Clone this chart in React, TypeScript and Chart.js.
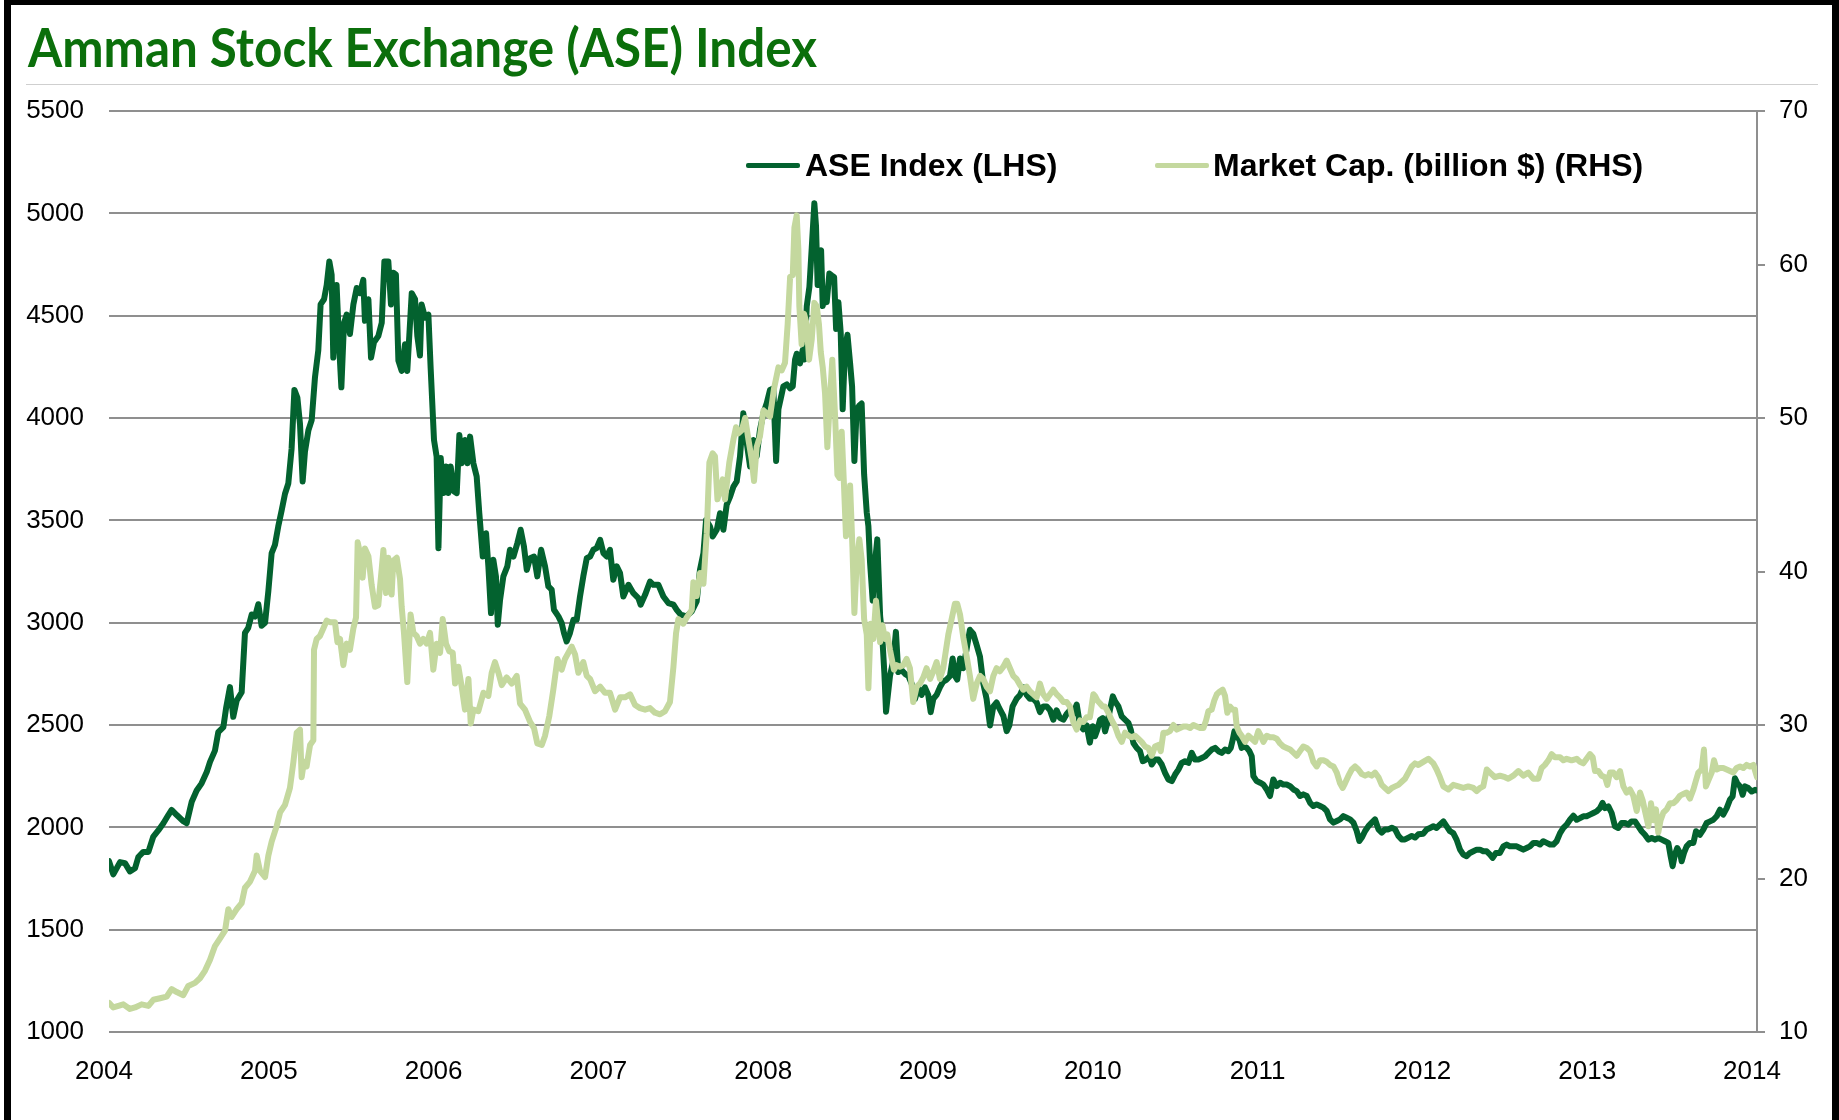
import React, { useEffect, useLayoutEffect, useRef } from "react";
import { Chart, registerables } from "chart.js";

Chart.register(...registerables);

// ---------------- data ----------------
const TITLE = "Amman Stock Exchange (ASE) Index";
const ASE_LABEL = "ASE Index (LHS)";
const CAP_LABEL = "Market Cap. (billion $) (RHS)";

const BASE_YEAR = 2004;
const xTickYears = [2004, 2005, 2006, 2007, 2008, 2009, 2010, 2011, 2012, 2013, 2014];
const leftTicks = [1000, 1500, 2000, 2500, 3000, 3500, 4000, 4500, 5000, 5500];
const rightTicks = [10, 20, 30, 40, 50, 60, 70];

// years elapsed since 2004 for each ASE reading
const aseYearOffsets = [
  0.000, 0.026, 0.067, 0.097, 0.127, 0.158, 0.178, 0.208, 0.239, 0.269, 0.299, 0.330, 0.360, 0.380, 0.411, 0.451, 0.471,
  0.502, 0.532, 0.562, 0.593, 0.613, 0.643, 0.663, 0.694, 0.710, 0.734, 0.754, 0.775, 0.805, 0.825, 0.845, 0.866, 0.886,
  0.906, 0.926, 0.947, 0.967, 0.987, 1.007, 1.027, 1.048, 1.068, 1.088, 1.108, 1.125, 1.143, 1.159, 1.175, 1.189, 1.210,
  1.230, 1.250, 1.270, 1.284, 1.305, 1.321, 1.337, 1.351, 1.361, 1.381, 1.398, 1.410, 1.426, 1.442, 1.462, 1.483, 1.503,
  1.523, 1.543, 1.553, 1.574, 1.590, 1.608, 1.634, 1.655, 1.671, 1.695, 1.711, 1.725, 1.741, 1.756, 1.776, 1.796, 1.810,
  1.837, 1.857, 1.871, 1.887, 1.897, 1.918, 1.938, 1.952, 1.972, 1.988, 1.999, 2.013, 2.029, 2.045, 2.059, 2.073, 2.094,
  2.110, 2.126, 2.140, 2.160, 2.175, 2.191, 2.211, 2.231, 2.247, 2.268, 2.288, 2.302, 2.318, 2.332, 2.348, 2.359, 2.373,
  2.393, 2.417, 2.433, 2.454, 2.478, 2.498, 2.518, 2.535, 2.555, 2.579, 2.599, 2.622, 2.646, 2.666, 2.686, 2.700, 2.727,
  2.747, 2.761, 2.777, 2.797, 2.818, 2.838, 2.858, 2.878, 2.899, 2.919, 2.939, 2.959, 2.980, 3.000, 3.020, 3.040, 3.060,
  3.081, 3.101, 3.121, 3.152, 3.182, 3.212, 3.226, 3.253, 3.283, 3.303, 3.334, 3.364, 3.394, 3.425, 3.445, 3.469, 3.505,
  3.536, 3.566, 3.586, 3.607, 3.623, 3.647, 3.663, 3.688, 3.708, 3.728, 3.748, 3.769, 3.789, 3.809, 3.829, 3.849, 3.870,
  3.890, 3.910, 3.930, 3.950, 3.971, 3.991, 4.011, 4.031, 4.048, 4.062, 4.082, 4.092, 4.113, 4.133, 4.149, 4.163, 4.173,
  4.193, 4.209, 4.220, 4.234, 4.250, 4.264, 4.280, 4.290, 4.300, 4.311, 4.321, 4.331, 4.341, 4.355, 4.371, 4.385, 4.400,
  4.412, 4.426, 4.440, 4.452, 4.466, 4.481, 4.497, 4.509, 4.523, 4.537, 4.553, 4.567, 4.582, 4.598, 4.608, 4.618, 4.634,
  4.648, 4.662, 4.679, 4.693, 4.705, 4.715, 4.739, 4.759, 4.775, 4.789, 4.810, 4.830, 4.850, 4.870, 4.891, 4.911, 4.931,
  4.951, 4.971, 4.986, 5.002, 5.022, 5.042, 5.062, 5.083, 5.103, 5.119, 5.133, 5.147, 5.164, 5.184, 5.204, 5.224, 5.244,
  5.265, 5.285, 5.305, 5.325, 5.346, 5.366, 5.386, 5.402, 5.427, 5.447, 5.463, 5.483, 5.507, 5.528, 5.548, 5.568, 5.588,
  5.609, 5.629, 5.649, 5.669, 5.690, 5.710, 5.730, 5.750, 5.770, 5.791, 5.811, 5.831, 5.851, 5.872, 5.892, 5.912, 5.932,
  5.952, 5.969, 5.983, 5.997, 6.014, 6.030, 6.044, 6.058, 6.074, 6.091, 6.105, 6.125, 6.145, 6.165, 6.186, 6.200, 6.216,
  6.236, 6.256, 6.273, 6.293, 6.313, 6.327, 6.347, 6.368, 6.388, 6.408, 6.428, 6.449, 6.469, 6.489, 6.509, 6.529, 6.550,
  6.570, 6.590, 6.610, 6.631, 6.651, 6.671, 6.691, 6.712, 6.732, 6.752, 6.772, 6.792, 6.807, 6.819, 6.829, 6.843, 6.859,
  6.873, 6.887, 6.904, 6.920, 6.934, 6.944, 6.964, 6.985, 7.005, 7.025, 7.045, 7.065, 7.086, 7.106, 7.126, 7.146, 7.167,
  7.187, 7.207, 7.227, 7.247, 7.268, 7.288, 7.308, 7.328, 7.349, 7.369, 7.389, 7.409, 7.430, 7.450, 7.470, 7.490, 7.510,
  7.531, 7.551, 7.571, 7.587, 7.602, 7.622, 7.642, 7.662, 7.682, 7.703, 7.723, 7.743, 7.763, 7.784, 7.804, 7.824, 7.844,
  7.864, 7.885, 7.905, 7.925, 7.945, 7.975, 7.995, 8.016, 8.036, 8.056, 8.076, 8.097, 8.117, 8.137, 8.157, 8.177, 8.198,
  8.218, 8.238, 8.258, 8.279, 8.299, 8.319, 8.339, 8.360, 8.380, 8.396, 8.416, 8.440, 8.461, 8.481, 8.501, 8.521, 8.542,
  8.562, 8.582, 8.602, 8.622, 8.643, 8.663, 8.683, 8.703, 8.724, 8.744, 8.764, 8.784, 8.805, 8.825, 8.845, 8.865, 8.886,
  8.906, 8.926, 8.946, 8.966, 8.987, 9.007, 9.027, 9.047, 9.063, 9.078, 9.098, 9.118, 9.138, 9.158, 9.179, 9.199, 9.219,
  9.239, 9.260, 9.280, 9.300, 9.320, 9.341, 9.361, 9.381, 9.401, 9.422, 9.442, 9.462, 9.476, 9.488, 9.502, 9.516, 9.533,
  9.543, 9.557, 9.573, 9.593, 9.614, 9.630, 9.654, 9.674, 9.694, 9.715, 9.735, 9.755, 9.775, 9.795, 9.816, 9.836, 9.852,
  9.866, 9.880, 9.897, 9.913, 9.927, 9.947, 9.968, 9.988, 10.000,
];

const aseValues = [
  1835, 1770, 1830, 1825, 1785, 1800, 1855, 1880, 1880, 1955, 1985, 2020, 2060, 2085, 2060, 2030, 2020,
  2125, 2180, 2215, 2270, 2320, 2375, 2465, 2490, 2580, 2685, 2540, 2620, 2660, 2950, 2975, 3040, 3030,
  3090, 2985, 3000, 3155, 3340, 3380, 3470, 3550, 3630, 3680, 3850, 4137, 4100, 3970, 3690, 3835, 3940,
  3990, 4200, 4330, 4555, 4580, 4650, 4765, 4700, 4295, 4650, 4330, 4150, 4465, 4505, 4410, 4555, 4635,
  4610, 4675, 4475, 4580, 4295, 4370, 4400, 4465, 4765, 4765, 4555, 4710, 4700, 4280, 4230, 4360, 4230,
  4610, 4580, 4400, 4305, 4555, 4490, 4505, 4240, 3893, 3812, 3364, 3804, 3633, 3763, 3633, 3763, 3641,
  3633, 3917, 3779, 3893, 3779, 3909, 3779, 3714, 3535, 3323, 3437, 3275, 3047, 3307, 3226, 2990, 3112,
  3226, 3275, 3356, 3323, 3389, 3454, 3372, 3258, 3315, 3323, 3226, 3356, 3275, 3177, 3161, 3063, 3031,
  2998, 2949, 2908, 2949, 3014, 3014, 3128, 3226, 3315, 3323, 3356, 3364, 3405, 3340, 3323, 3356, 3210,
  3275, 3242, 3128, 3185, 3144, 3120, 3088, 3136, 3201, 3185, 3185, 3128, 3096, 3088, 3063, 3039, 3031,
  3055, 3104, 3258, 3340, 3502, 3470, 3421, 3454, 3535, 3454, 3576, 3616, 3665, 3690, 3812, 4023, 3877,
  3763, 3893, 3812, 3942, 4023, 4072, 4137, 4145, 3790, 4043, 4117, 4155, 4164, 4145, 4155, 4286, 4314,
  4267, 4332, 4286, 4547, 4641, 4828, 5049, 4940, 4650, 4809, 4819, 4547, 4622, 4566, 4706, 4697, 4688,
  4435, 4566, 4417, 4043, 4342, 4407, 4267, 4155, 3790, 4043, 4061, 4071, 3725, 3538, 3472, 3295, 3108,
  3295, 3407, 3033, 2921, 2752, 2565, 2740, 2815, 2955, 2759, 2768, 2750, 2740, 2703, 2628, 2684, 2647,
  2684, 2647, 2563, 2628, 2647, 2684, 2712, 2722, 2740, 2825, 2740, 2722, 2825, 2778, 2871, 2965, 2946,
  2890, 2834, 2703, 2628, 2498, 2591, 2610, 2582, 2544, 2470, 2498, 2591, 2628, 2647, 2684, 2647, 2628,
  2628, 2610, 2563, 2591, 2591, 2572, 2526, 2572, 2535, 2526, 2554, 2572, 2554, 2600, 2498, 2479, 2498,
  2414, 2494, 2445, 2477, 2526, 2534, 2469, 2510, 2575, 2640, 2615, 2591, 2542, 2526, 2510, 2477, 2412,
  2388, 2372, 2323, 2331, 2347, 2307, 2331, 2331, 2307, 2266, 2234, 2226, 2258, 2282, 2315, 2323, 2315,
  2364, 2331, 2331, 2339, 2347, 2364, 2380, 2388, 2372, 2364, 2380, 2372, 2388, 2429, 2469, 2445, 2429,
  2388, 2396, 2388, 2372, 2347, 2250, 2226, 2218, 2209, 2185, 2153, 2234, 2201, 2218, 2209, 2209, 2201,
  2185, 2177, 2153, 2161, 2153, 2120, 2104, 2112, 2104, 2096, 2080, 2039, 2023, 2031, 2039, 2055, 2047,
  2039, 2023, 1982, 1933, 1950, 1982, 2006, 2023, 2039, 1990, 1974, 1990, 1990, 1998, 1990, 1958, 1941,
  1941, 1950, 1958, 1950, 1966, 1969, 1989, 1997, 2005, 1997, 2013, 2029, 2005, 1981, 1972, 1940, 1891,
  1867, 1859, 1875, 1883, 1891, 1891, 1883, 1883, 1867, 1851, 1875, 1875, 1907, 1916, 1907, 1907, 1907,
  1899, 1891, 1899, 1907, 1924, 1924, 1916, 1932, 1924, 1916, 1916, 1932, 1972, 1997, 2013, 2037, 2057,
  2037, 2045, 2054, 2054, 2062, 2070, 2078, 2094, 2119, 2094, 2102, 2070, 2005, 1997, 2021, 2021, 2013,
  2029, 2029, 2005, 1981, 1964, 1940, 1948, 1940, 1948, 1940, 1932, 1924, 1859, 1810, 1867, 1899, 1875,
  1834, 1875, 1907, 1924, 1924, 1981, 1964, 1989, 2021, 2029, 2037, 2054, 2086, 2062, 2094, 2135, 2151,
  2240, 2216, 2200, 2159, 2200, 2192, 2175, 2183, 2180,
];

// years elapsed since 2004 for each market-cap reading
const capYearOffsets = [
  0.000, 0.026, 0.057, 0.087, 0.127, 0.158, 0.198, 0.239, 0.269, 0.310, 0.350, 0.380, 0.411, 0.451, 0.481, 0.522, 0.552,
  0.583, 0.613, 0.643, 0.674, 0.704, 0.724, 0.744, 0.775, 0.805, 0.825, 0.856, 0.886, 0.896, 0.916, 0.947, 0.967, 0.987,
  1.017, 1.038, 1.068, 1.098, 1.119, 1.139, 1.159, 1.169, 1.183, 1.199, 1.220, 1.240, 1.244, 1.260, 1.280, 1.301, 1.321,
  1.341, 1.371, 1.386, 1.402, 1.422, 1.442, 1.462, 1.483, 1.499, 1.509, 1.523, 1.539, 1.553, 1.574, 1.594, 1.614, 1.634,
  1.655, 1.665, 1.681, 1.695, 1.715, 1.725, 1.746, 1.766, 1.776, 1.790, 1.810, 1.830, 1.847, 1.867, 1.887, 1.907, 1.928,
  1.948, 1.968, 1.988, 2.009, 2.025, 2.045, 2.065, 2.086, 2.100, 2.120, 2.140, 2.160, 2.181, 2.195, 2.211, 2.241, 2.272,
  2.302, 2.322, 2.342, 2.363, 2.383, 2.413, 2.444, 2.474, 2.494, 2.524, 2.555, 2.579, 2.599, 2.626, 2.646, 2.672, 2.696,
  2.721, 2.747, 2.767, 2.787, 2.808, 2.828, 2.848, 2.878, 2.899, 2.919, 2.949, 2.980, 3.010, 3.040, 3.071, 3.101, 3.131,
  3.162, 3.192, 3.222, 3.253, 3.283, 3.313, 3.344, 3.374, 3.404, 3.425, 3.441, 3.455, 3.485, 3.505, 3.536, 3.546, 3.566,
  3.586, 3.607, 3.627, 3.643, 3.663, 3.677, 3.692, 3.708, 3.724, 3.738, 3.764, 3.789, 3.805, 3.819, 3.839, 3.860, 3.880,
  3.900, 3.914, 3.930, 3.950, 3.971, 3.991, 4.011, 4.035, 4.062, 4.082, 4.102, 4.118, 4.133, 4.149, 4.159, 4.173, 4.183,
  4.189, 4.203, 4.217, 4.234, 4.248, 4.264, 4.280, 4.294, 4.308, 4.319, 4.331, 4.345, 4.359, 4.375, 4.389, 4.406, 4.420,
  4.432, 4.446, 4.460, 4.472, 4.486, 4.497, 4.511, 4.523, 4.537, 4.553, 4.567, 4.582, 4.598, 4.608, 4.622, 4.638, 4.654,
  4.668, 4.679, 4.693, 4.709, 4.723, 4.739, 4.763, 4.779, 4.799, 4.820, 4.840, 4.860, 4.880, 4.901, 4.921, 4.941, 4.961,
  4.982, 5.002, 5.022, 5.042, 5.062, 5.079, 5.093, 5.113, 5.133, 5.147, 5.164, 5.184, 5.204, 5.224, 5.244, 5.265, 5.285,
  5.305, 5.325, 5.346, 5.366, 5.386, 5.406, 5.427, 5.447, 5.467, 5.487, 5.507, 5.528, 5.548, 5.568, 5.588, 5.609, 5.629,
  5.649, 5.669, 5.690, 5.710, 5.730, 5.750, 5.770, 5.791, 5.811, 5.831, 5.851, 5.872, 5.892, 5.912, 5.932, 5.952, 5.973,
  5.983, 5.997, 6.014, 6.030, 6.044, 6.064, 6.085, 6.105, 6.125, 6.145, 6.165, 6.186, 6.206, 6.226, 6.246, 6.266, 6.287,
  6.307, 6.327, 6.347, 6.368, 6.382, 6.398, 6.418, 6.438, 6.459, 6.479, 6.499, 6.519, 6.540, 6.560, 6.580, 6.600, 6.621,
  6.641, 6.657, 6.671, 6.691, 6.707, 6.722, 6.742, 6.758, 6.772, 6.786, 6.802, 6.819, 6.833, 6.843, 6.859, 6.873, 6.894,
  6.914, 6.934, 6.954, 6.974, 6.989, 7.005, 7.025, 7.045, 7.065, 7.086, 7.106, 7.126, 7.146, 7.167, 7.187, 7.207, 7.227,
  7.247, 7.268, 7.288, 7.308, 7.328, 7.349, 7.369, 7.389, 7.409, 7.430, 7.450, 7.470, 7.486, 7.500, 7.521, 7.541, 7.561,
  7.581, 7.602, 7.622, 7.642, 7.662, 7.682, 7.703, 7.723, 7.743, 7.763, 7.784, 7.804, 7.824, 7.844, 7.864, 7.885, 7.905,
  7.925, 7.945, 7.975, 8.006, 8.036, 8.056, 8.076, 8.097, 8.127, 8.157, 8.188, 8.218, 8.248, 8.279, 8.299, 8.319, 8.339,
  8.360, 8.380, 8.410, 8.440, 8.471, 8.491, 8.521, 8.552, 8.582, 8.612, 8.643, 8.673, 8.693, 8.713, 8.734, 8.754, 8.774,
  8.805, 8.825, 8.845, 8.875, 8.906, 8.926, 8.946, 8.966, 8.987, 9.003, 9.017, 9.037, 9.057, 9.078, 9.092, 9.108, 9.128,
  9.148, 9.169, 9.189, 9.209, 9.229, 9.249, 9.270, 9.290, 9.306, 9.320, 9.341, 9.357, 9.371, 9.387, 9.401, 9.415, 9.432,
  9.452, 9.472, 9.492, 9.512, 9.533, 9.553, 9.573, 9.593, 9.614, 9.630, 9.644, 9.664, 9.678, 9.690, 9.705, 9.725, 9.739,
  9.755, 9.775, 9.795, 9.816, 9.836, 9.856, 9.876, 9.897, 9.917, 9.937, 9.957, 9.978, 10.000,
];

const capValues = [
  11.9, 11.6, 11.7, 11.8, 11.5, 11.6, 11.8, 11.7, 12.1, 12.2, 12.3, 12.8, 12.6, 12.4, 13.0, 13.2, 13.5,
  14.0, 14.7, 15.6, 16.1, 16.6, 18.0, 17.5, 18.0, 18.4, 19.4, 19.8, 20.5, 21.5, 20.5, 20.1, 21.5, 22.4,
  23.4, 24.3, 24.8, 25.9, 27.6, 29.5, 29.7, 26.6, 27.6, 27.3, 28.7, 29.0, 34.9, 35.6, 35.8, 36.3, 36.8,
  36.7, 36.7, 35.4, 35.6, 33.9, 35.3, 34.9, 36.3, 37.0, 41.9, 41.2, 39.6, 41.5, 41.0, 39.1, 37.7, 37.8,
  40.2, 41.4, 38.6, 40.9, 38.5, 40.7, 40.9, 39.5, 37.7, 36.0, 32.8, 37.2, 36.0, 35.8, 35.3, 35.6, 35.3,
  36.0, 33.6, 35.3, 34.7, 36.9, 35.3, 34.8, 34.7, 32.7, 33.8, 32.5, 31.0, 33.0, 30.1, 31.0, 30.9, 32.1,
  31.9, 33.4, 34.1, 33.4, 32.6, 33.1, 32.7, 33.2, 31.4, 31.0, 30.2, 29.8, 28.8, 28.7, 29.3, 30.6, 32.3,
  34.3, 33.6, 34.3, 34.7, 35.1, 34.6, 33.4, 34.1, 33.2, 33.0, 32.2, 32.5, 32.1, 32.1, 31.0, 31.8, 31.8,
  32.0, 31.3, 31.1, 31.0, 31.1, 30.8, 30.7, 30.9, 31.5, 33.8, 36.0, 36.9, 36.6, 37.0, 37.5, 39.3, 38.4,
  39.9, 39.2, 42.5, 47.1, 47.7, 47.5, 44.7, 45.3, 46.0, 44.7, 47.1, 48.6, 49.4, 49.0, 49.2, 50.0, 48.6,
  47.3, 45.9, 48.1, 48.8, 50.5, 50.3, 50.1, 51.9, 53.3, 53.1, 53.6, 56.1, 59.2, 59.3, 62.4, 63.2, 61.0,
  57.3, 54.8, 56.8, 56.1, 53.8, 55.1, 57.5, 57.3, 56.1, 54.3, 53.3, 51.6, 48.1, 51.3, 53.8, 50.1, 46.3,
  46.1, 49.1, 45.6, 42.3, 42.6, 45.6, 41.6, 37.3, 40.6, 42.1, 40.8, 36.9, 35.9, 32.4, 36.6, 35.6, 38.1,
  36.6, 35.4, 36.5, 35.6, 35.9, 34.9, 33.6, 33.9, 33.8, 33.9, 34.3, 33.7, 31.5, 32.5, 32.7, 33.1, 33.7,
  33.0, 33.5, 34.1, 33.0, 33.7, 34.9, 35.9, 36.9, 37.9, 37.9, 37.2, 35.7, 34.5, 33.2, 31.7, 32.7, 33.2,
  33.0, 32.5, 32.2, 33.2, 33.7, 33.5, 33.8, 34.2, 33.7, 33.2, 33.0, 32.6, 32.3, 32.5, 32.2, 32.0, 31.8,
  32.7, 32.0, 31.7, 32.0, 32.3, 32.0, 31.8, 31.5, 31.5, 31.2, 30.2, 29.7, 30.3, 30.2, 30.5, 30.5, 32.0,
  31.9, 31.6, 31.4, 31.2, 31.2, 30.8, 30.3, 29.9, 29.3, 28.9, 29.5, 29.3, 29.2, 29.3, 29.1, 28.9, 28.6,
  28.5, 28.0, 28.6, 28.7, 28.3, 29.5, 29.5, 29.6, 30.0, 29.7, 29.8, 29.9, 29.9, 29.8, 30.0, 29.9, 29.8,
  29.8, 30.3, 30.9, 31.0, 31.6, 32.0, 32.2, 32.3, 31.9, 30.8, 31.2, 31.0, 31.0, 29.9, 29.5, 29.3, 28.9,
  29.3, 29.1, 28.9, 29.6, 29.3, 28.9, 29.3, 29.2, 29.2, 29.1, 28.8, 28.6, 28.5, 28.4, 28.2, 28.0, 28.3,
  28.6, 28.5, 28.3, 27.6, 27.3, 27.7, 27.7, 27.6, 27.4, 27.3, 26.9, 26.2, 25.9, 26.2, 26.7, 27.1, 27.3,
  27.1, 26.8, 26.7, 26.8, 26.7, 26.9, 26.6, 26.1, 25.9, 25.7, 25.9, 26.0, 26.1, 26.3, 26.5, 26.9, 27.3,
  27.5, 27.4, 27.6, 27.8, 27.5, 27.1, 26.6, 26.0, 25.8, 26.1, 26.0, 25.9, 26.0, 25.9, 25.7, 25.9, 26.0,
  27.1, 26.9, 26.6, 26.7, 26.6, 26.5, 26.7, 27.0, 26.7, 26.9, 26.5, 26.5, 27.2, 27.4, 27.7, 28.1, 27.9,
  27.9, 27.7, 27.8, 27.7, 27.8, 27.6, 27.5, 27.8, 28.1, 27.9, 27.0, 27.0, 26.7, 26.6, 26.1, 26.9, 26.9,
  26.6, 27.0, 26.0, 25.6, 25.8, 25.4, 24.4, 25.6, 25.1, 24.4, 23.4, 24.9, 23.8, 24.5, 23.0, 23.8, 24.3,
  24.5, 24.9, 24.9, 25.1, 25.4, 25.5, 25.6, 25.2, 25.8, 26.4, 26.9, 27.1, 28.4, 26.0, 26.4, 26.9, 27.7,
  27.1, 27.2, 27.2, 27.1, 27.0, 26.9, 27.2, 27.3, 27.2, 27.4, 27.3, 27.4, 26.6,
];

// ---------------- styling ----------------
const ASE_COLOR = "#03622f";
const CAP_COLOR = "#c4d89e";
const GRID_COLOR = "#8f8f8f";
const TITLE_COLOR = "#0b6f0b";
const TICK_FONT = "'Liberation Sans', Arial, sans-serif";

export default function App() {
  const canvasRef = useRef<HTMLCanvasElement | null>(null);
  const titleRef = useRef<HTMLDivElement | null>(null);

  useLayoutEffect(() => {
    const el = titleRef.current;
    if (el) {
      el.style.transform = "none";
      const w = el.getBoundingClientRect().width;
      if (w > 0) el.style.transform = `scaleX(${789 / w})`;
    }
  }, []);

  useEffect(() => {
    const canvas = canvasRef.current;
    if (!canvas) return;
    const asePoints = aseYearOffsets.map((t, i) => ({ x: BASE_YEAR + t, y: aseValues[i] }));
    const capPoints = capYearOffsets.map((t, i) => ({ x: BASE_YEAR + t, y: capValues[i] }));

    const chart = new Chart(canvas, {
      type: "line",
      data: {
        datasets: [
          {
            label: ASE_LABEL,
            data: asePoints,
            yAxisID: "y",
            borderColor: ASE_COLOR,
            borderWidth: 6,
            pointRadius: 0,
            tension: 0,
            borderJoinStyle: "round",
            borderCapStyle: "round",
            order: 2,
          },
          {
            label: CAP_LABEL,
            data: capPoints,
            yAxisID: "y1",
            borderColor: CAP_COLOR,
            borderWidth: 6,
            pointRadius: 0,
            tension: 0,
            borderJoinStyle: "round",
            borderCapStyle: "round",
            order: 1,
          },
        ],
      },
      options: {
        responsive: false,
        animation: false,
        devicePixelRatio: 1,
        parsing: false as any,
        normalized: true,
        layout: { padding: { top: 111, left: 0, right: 0, bottom: 0 } },
        plugins: {
          legend: { display: false },
          tooltip: { enabled: false },
          title: { display: false },
        },
        scales: {
          x: {
            type: "linear",
            min: xTickYears[0],
            max: xTickYears[xTickYears.length - 1],
            afterBuildTicks: (s: any) => {
              s.ticks = xTickYears.map((v) => ({ value: v }));
            },
            afterFit: (s: any) => {
              s.height = 88;
            },
            grid: { display: false, drawTicks: false },
            border: { display: false },
            ticks: {
              padding: 24,
              labelOffset: -5,
              maxRotation: 0,
              autoSkip: false,
              color: "#000",
              font: { family: TICK_FONT, size: 26 },
              callback: (v: any) => String(v),
            },
          },
          y: {
            type: "linear",
            position: "left",
            min: leftTicks[0],
            max: leftTicks[leftTicks.length - 1],
            afterBuildTicks: (s: any) => {
              s.ticks = leftTicks.map((v) => ({ value: v }));
            },
            afterFit: (s: any) => {
              s.width = 109;
            },
            grid: { color: GRID_COLOR, lineWidth: 2, drawTicks: false },
            border: { display: false },
            ticks: {
              padding: 25,
              color: "#000",
              font: { family: TICK_FONT, size: 26 },
              callback: (v: any) => String(v),
            },
          },
          y1: {
            type: "linear",
            position: "right",
            min: rightTicks[0],
            max: rightTicks[rightTicks.length - 1],
            afterBuildTicks: (s: any) => {
              s.ticks = rightTicks.map((v) => ({ value: v }));
            },
            afterFit: (s: any) => {
              s.width = 82;
            },
            grid: { drawOnChartArea: false, drawTicks: true, tickLength: 8, color: GRID_COLOR, lineWidth: 2 },
            border: { display: true, color: GRID_COLOR, width: 2 },
            ticks: {
              padding: 14,
              color: "#000",
              font: { family: TICK_FONT, size: 26 },
              callback: (v: any) => String(v),
            },
          },
        },
      },
    });
    return () => chart.destroy();
  }, []);

  return (
    <div
      style={{
        position: "fixed",
        left: 0,
        top: 0,
        width: 1839,
        height: 1120,
        background: "#fff",
        overflow: "hidden",
      }}
    >
      <canvas ref={canvasRef} width={1839} height={1120} style={{ position: "absolute", left: 0, top: 0, width: 1839, height: 1120 }} />
      {/* frame */}
      <div
        style={{
          position: "absolute",
          left: 4,
          top: 0,
          width: 1839 - 4 - 7 - 7,
          height: 1120,
          borderLeft: "7px solid #000",
          borderTop: "5px solid #000",
          borderRight: "7px solid #000",
          pointerEvents: "none",
        }}
      />
      {/* title */}
      <div
        ref={titleRef}
        style={{
          position: "absolute",
          left: 28,
          top: 20,
          fontFamily: "Lato, 'Open Sans', sans-serif",
          fontWeight: 700,
          fontSize: 54,
          lineHeight: "54px",
          color: TITLE_COLOR,
          whiteSpace: "nowrap",
          transformOrigin: "0 0",
        }}
      >
        {TITLE}
      </div>
      <div style={{ position: "absolute", left: 26, top: 84, width: 1792, height: 1, background: "#cfcfcf" }} />
      {/* legend */}
      <div style={{ position: "absolute", left: 746, top: 163, width: 54, height: 5, background: ASE_COLOR, borderRadius: 2 }} />
      <div
        style={{
          position: "absolute",
          left: 805,
          top: 149,
          fontFamily: TICK_FONT,
          fontWeight: 700,
          fontSize: 32,
          lineHeight: "32px",
          color: "#000",
          whiteSpace: "nowrap",
        }}
      >
        {ASE_LABEL}
      </div>
      <div style={{ position: "absolute", left: 1155, top: 163, width: 54, height: 5, background: CAP_COLOR, borderRadius: 2 }} />
      <div
        style={{
          position: "absolute",
          left: 1213,
          top: 149,
          fontFamily: TICK_FONT,
          fontWeight: 700,
          fontSize: 32,
          lineHeight: "32px",
          color: "#000",
          whiteSpace: "nowrap",
        }}
      >
        {CAP_LABEL}
      </div>
    </div>
  );
}
